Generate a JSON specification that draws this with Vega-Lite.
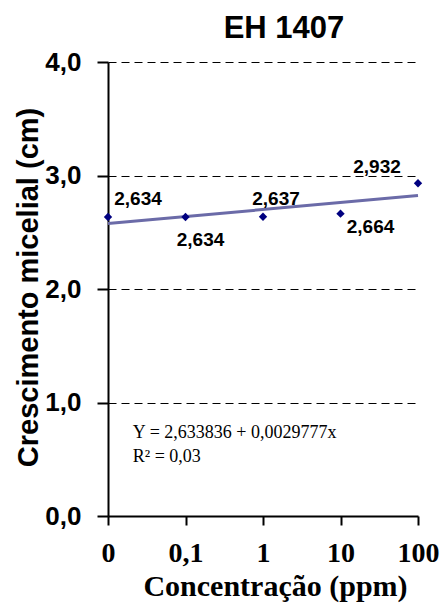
{
  "$schema": "https://vega.github.io/schema/vega-lite/v6.json",
  "width": 310,
  "height": 454,
  "autosize": {"type": "none"},
  "padding": {"left": 108, "top": 62, "right": 22, "bottom": 90},
  "background": "white",
  "title": {
    "text": "EH 1407",
    "font": "Liberation Sans",
    "fontSize": 31,
    "fontWeight": "bold",
    "color": "black",
    "anchor": "middle",
    "frame": "group",
    "dx": 21,
    "dy": 20,
    "baseline": "alphabetic",
    "offset": 0
  },
  "config": {
    "view": {"stroke": null},
    "locale": {
      "number": {"decimal": ",", "thousands": ".", "grouping": [3], "currency": ["R$ ", ""]}
    }
  },
  "datasets": {
    "medidas": [
      {"conc": "0", "ordem": 0, "crescimento": 2.634},
      {"conc": "0,1", "ordem": 1, "crescimento": 2.634},
      {"conc": "1", "ordem": 2, "crescimento": 2.637},
      {"conc": "10", "ordem": 3, "crescimento": 2.664},
      {"conc": "100", "ordem": 4, "crescimento": 2.932}
    ],
    "tendencia": [
      {"ordem": 0, "crescimento": 2.577},
      {"ordem": 4, "crescimento": 2.823}
    ]
  },
  "layer": [
    {
      "data": {"name": "tendencia"},
      "mark": {"type": "line", "color": "#6b6ba8", "strokeWidth": 3},
      "encoding": {
        "x": {
          "field": "ordem",
          "type": "quantitative",
          "scale": {"domain": [0, 4], "nice": false, "zero": false},
          "axis": {
            "values": [0, 1, 2, 3, 4],
            "labelExpr": "['0','0,1','1','10','100'][datum.value]",
            "grid": false,
            "domainColor": "black",
            "domainWidth": 2,
            "tickColor": "black",
            "tickWidth": 2,
            "tickSize": 9,
            "labelFont": "Liberation Serif",
            "labelFontSize": 28,
            "labelFontWeight": "bold",
            "labelColor": "black",
            "labelBaseline": "alphabetic",
            "labelPadding": 36,
            "labelFlush": false,
            "labelOverlap": false,
            "title": "Concentração (ppm)",
            "titleFont": "Liberation Serif",
            "titleFontSize": 30,
            "titleFontWeight": "bold",
            "titleColor": "black",
            "titleX": 167,
            "titleY": 79,
            "titleAlign": "center",
            "titleBaseline": "alphabetic"
          }
        },
        "y": {
          "field": "crescimento",
          "type": "quantitative",
          "scale": {"domain": [0, 4], "nice": false},
          "axis": {
            "values": [0, 1, 2, 3, 4],
            "format": ".1f",
            "grid": true,
            "gridColor": "black",
            "gridDash": [8, 5],
            "gridWidth": 1,
            "gridOpacity": 1,
            "domainColor": "black",
            "domainWidth": 2,
            "tickColor": "black",
            "tickWidth": 2,
            "tickSize": 11,
            "labelFont": "Liberation Sans",
            "labelFontSize": 26,
            "labelFontWeight": "bold",
            "labelColor": "black",
            "labelPadding": 16,
            "labelFlush": false,
            "labelOverlap": false,
            "title": "Crescimento micelial (cm)",
            "titleFont": "Liberation Sans",
            "titleFontSize": 29,
            "titleFontWeight": "bold",
            "titleColor": "black",
            "titleAngle": -90,
            "titleX": -71,
            "titleY": 225,
            "titleAlign": "center",
            "titleBaseline": "alphabetic"
          }
        }
      }
    },
    {
      "data": {"name": "medidas"},
      "mark": {"type": "point", "shape": "diamond", "filled": true, "color": "#000080", "opacity": 1, "size": 70},
      "encoding": {
        "x": {"field": "ordem", "type": "quantitative"},
        "y": {"field": "crescimento", "type": "quantitative"}
      }
    },
    {
      "data": {"name": "medidas"},
      "transform": [{"filter": "datum.conc === '0'"}],
      "mark": {"type": "text", "font": "Liberation Sans", "fontSize": 19, "fontWeight": "bold", "color": "black", "align": "center", "baseline": "middle", "dx": 30, "dy": -18},
      "encoding": {
        "x": {"field": "ordem", "type": "quantitative"},
        "y": {"field": "crescimento", "type": "quantitative"},
        "text": {"field": "crescimento", "type": "quantitative", "format": ".3f"}
      }
    },
    {
      "data": {"name": "medidas"},
      "transform": [{"filter": "datum.conc === '0,1'"}],
      "mark": {"type": "text", "font": "Liberation Sans", "fontSize": 19, "fontWeight": "bold", "color": "black", "align": "center", "baseline": "middle", "dx": 15, "dy": 23},
      "encoding": {
        "x": {"field": "ordem", "type": "quantitative"},
        "y": {"field": "crescimento", "type": "quantitative"},
        "text": {"field": "crescimento", "type": "quantitative", "format": ".3f"}
      }
    },
    {
      "data": {"name": "medidas"},
      "transform": [{"filter": "datum.conc === '1'"}],
      "mark": {"type": "text", "font": "Liberation Sans", "fontSize": 19, "fontWeight": "bold", "color": "black", "align": "center", "baseline": "middle", "dx": 13, "dy": -18},
      "encoding": {
        "x": {"field": "ordem", "type": "quantitative"},
        "y": {"field": "crescimento", "type": "quantitative"},
        "text": {"field": "crescimento", "type": "quantitative", "format": ".3f"}
      }
    },
    {
      "data": {"name": "medidas"},
      "transform": [{"filter": "datum.conc === '10'"}],
      "mark": {"type": "text", "font": "Liberation Sans", "fontSize": 19, "fontWeight": "bold", "color": "black", "align": "center", "baseline": "middle", "dx": 30, "dy": 13},
      "encoding": {
        "x": {"field": "ordem", "type": "quantitative"},
        "y": {"field": "crescimento", "type": "quantitative"},
        "text": {"field": "crescimento", "type": "quantitative", "format": ".3f"}
      }
    },
    {
      "data": {"name": "medidas"},
      "transform": [{"filter": "datum.conc === '100'"}],
      "mark": {"type": "text", "font": "Liberation Sans", "fontSize": 19, "fontWeight": "bold", "color": "black", "align": "center", "baseline": "middle", "dx": -41, "dy": -16},
      "encoding": {
        "x": {"field": "ordem", "type": "quantitative"},
        "y": {"field": "crescimento", "type": "quantitative"},
        "text": {"field": "crescimento", "type": "quantitative", "format": ".3f"}
      }
    },
    {
      "data": {"values": [{}]},
      "mark": {
        "type": "text",
        "text": ["Y = 2,633836 + 0,0029777x", "R² = 0,03"],
        "font": "Liberation Serif",
        "fontSize": 18,
        "color": "black",
        "align": "left",
        "baseline": "alphabetic",
        "lineHeight": 24
      },
      "encoding": {
        "x": {"datum": 0.32, "type": "quantitative"},
        "y": {"datum": 0.683, "type": "quantitative"}
      }
    }
  ]
}
